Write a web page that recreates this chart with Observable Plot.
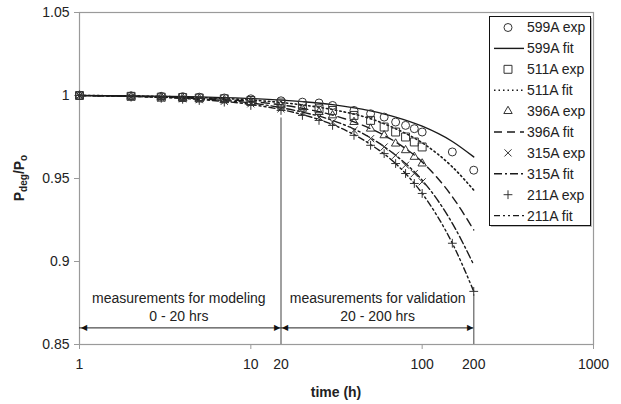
<!DOCTYPE html>
<html><head><meta charset="utf-8">
<script src="https://cdn.jsdelivr.net/npm/d3@7"></script>
<script src="https://cdn.jsdelivr.net/npm/@observablehq/plot@0.6"></script>
<style>
html,body{margin:0;padding:0;background:#fff;}
#chart{position:relative;width:621px;height:404px;}
</style></head><body><div id="chart"></div>
<script>
// ---- data ----
const series = ["599A", "511A", "396A", "315A", "211A"];
const expTimes = [1, 2, 3, 4, 5, 7, 10, 15, 20, 25, 30, 40, 50, 60, 70, 80, 90, 100, 150, 200];
const exp599A = [1.000, 0.9998, 0.9995, 0.9993, 0.999, 0.9985, 0.998, 0.9968, 0.996, 0.9955, 0.994, 0.991, 0.989, 0.987, 0.984, 0.982, 0.980, 0.978, 0.966, 0.955];
const exp511A = [1.000, 0.9995, 0.999, 0.9988, 0.9985, 0.998, 0.997, 0.9955, 0.994, 0.992, 0.991, 0.988, 0.985, 0.981, 0.978, 0.975, 0.972, 0.969];
const exp396A = [1.000, 0.9993, 0.999, 0.9985, 0.998, 0.9972, 0.996, 0.994, 0.992, 0.990, 0.988, 0.984, 0.980, 0.976, 0.971, 0.967, 0.963, 0.959];
const exp315A = [1.000, 0.9992, 0.9985, 0.998, 0.9975, 0.9965, 0.995, 0.992, 0.990, 0.987, 0.984, 0.979, 0.974, 0.969, 0.964, 0.958, 0.953, 0.948];
const exp211A = [1.000, 0.999, 0.9983, 0.9977, 0.997, 0.996, 0.994, 0.991, 0.988, 0.985, 0.982, 0.976, 0.970, 0.965, 0.959, 0.953, 0.947, 0.941, 0.911, 0.882];

const fitTimes = [1, 2, 5, 10, 20, 30, 50, 70, 100, 150, 200];
const fit599A = [1.000, 0.9998, 0.9992, 0.9982, 0.9963, 0.9945, 0.9907, 0.987, 0.9815, 0.9723, 0.963];
const fit511A = [1.000, 0.9997, 0.9988, 0.9973, 0.9943, 0.9915, 0.986, 0.980, 0.9715, 0.957, 0.943];
const fit396A = [1.000, 0.9996, 0.9984, 0.9964, 0.9923, 0.9882, 0.980, 0.972, 0.960, 0.939, 0.919];
const fit315A = [1.000, 0.9995, 0.998, 0.9955, 0.990, 0.985, 0.9745, 0.964, 0.949, 0.923, 0.898];
const fit211A = [1.000, 0.9994, 0.9976, 0.9946, 0.9885, 0.9825, 0.9705, 0.959, 0.941, 0.911, 0.882];

const yTicks = [0.85, 0.9, 0.95, 1, 1.05];
const xTickMarks = [1, 10, 100, 1000];
const xTickValues = [1, 10, 15, 100, 200, 1000];
const xTickLabels = ["1", "10", "20", "100", "200", "1000"];

// annotation (positions as drawn in the original figure)
const boundaries = [{t: 15, top: 0.9865}, {t: 200, top: 0.880}];
const spans = [{from: 1, to: 15}, {from: 15, to: 200}];
const arrowY = 0.86;
const notes = [
  {t: 3.8, v: 0.878, text: "measurements for modeling"},
  {t: 3.8, v: 0.867, text: "0 - 20 hrs"},
  {t: 55, v: 0.878, text: "measurements for validation"},
  {t: 55, v: 0.867, text: "20 - 200 hrs"}
];

// ---- styles ----
const squareSym = {draw(ctx, size) { const s = Math.sqrt(size) * 0.56; ctx.rect(-s, -s, 2 * s, 2 * s); }};
const plusSym = {draw(ctx, size) { const s = Math.sqrt(size) * 0.62; ctx.moveTo(-s, 0); ctx.lineTo(s, 0); ctx.moveTo(0, -s); ctx.lineTo(0, s); }};
const timesSym = {draw(ctx, size) { const s = Math.sqrt(size) * 0.5; ctx.moveTo(-s, -s); ctx.lineTo(s, s); ctx.moveTo(-s, s); ctx.lineTo(s, -s); }};
const symbolObjs = [d3.symbolCircle, squareSym, d3.symbolTriangle2, timesSym, plusSym];
const dashes = [null, "1.5,3", "8,5", "8,3,2,3", "6,3,2,3,2,3"];
const FONT = "'Liberation Sans', Arial, sans-serif";

const expSeries = [exp599A, exp511A, exp396A, exp315A, exp211A];
const fitSeries = [fit599A, fit511A, fit396A, fit315A, fit211A];
const expRows = series.flatMap((s, i) => expSeries[i].map((v, j) => ({series: s, t: expTimes[j], v})));

const lines = series.map((s, i) => Plot.line(fitSeries[i].map((v, j) => ({t: fitTimes[j], v})), {
  x: "t", y: "v", stroke: "#1a1a1a", strokeWidth: i === 1 ? 1.6 : 1.4,
  strokeDasharray: dashes[i] || undefined, curve: "monotone-x"
}));

const plot = Plot.plot({
  width: 621, height: 404,
  marginLeft: 79, marginRight: 28, marginTop: 12, marginBottom: 60,
  style: {fontFamily: FONT, fontSize: "14px", color: "#222", background: "#fff"},
  x: {type: "log", domain: [1, 1000], label: null},
  y: {domain: [0.85, 1.05], label: null},
  symbol: {domain: series, range: symbolObjs},
  marks: [
    Plot.frame({stroke: "#9a9a9a", strokeWidth: 1.2}),
    Plot.axisY({ticks: yTicks, tickSize: 5, tickPadding: 5, fontSize: 14, stroke: "#9a9a9a",
      tickFormat: d => String(+d.toFixed(2))}),
    Plot.axisX({ticks: xTickMarks, tickSize: 5, tickFormat: () => "", stroke: "#9a9a9a"}),
    Plot.axisX({ticks: xTickValues, tickSize: 0, tickPadding: 15, fontSize: 14,
      tickFormat: d => xTickLabels[xTickValues.indexOf(d)]}),
    Plot.ruleX(boundaries, {x: "t", y1: 0.85, y2: "top", stroke: "#808080", strokeWidth: 1.5}),
    ...lines,
    Plot.dot(expRows, {x: "t", y: "v", symbol: "series", r: 4, stroke: "#333", strokeWidth: 1, fill: "none"}),
    Plot.ruleY(spans, {y: arrowY, x1: "from", x2: "to", stroke: "#222", strokeWidth: 1}),
    Plot.text(spans, {x: "from", y: arrowY, text: () => "\u25C0", textAnchor: "start", fontSize: 8, fill: "#111", dx: 1}),
    Plot.text(spans, {x: "to", y: arrowY, text: () => "\u25B6", textAnchor: "end", fontSize: 8, fill: "#111", dx: -1}),
    Plot.text(notes, {x: "t", y: "v", text: "text", fontSize: 14, fill: "#222"})
  ]
});

document.getElementById("chart").appendChild(plot);

// ---- axis titles and legend ----
const svg = d3.select(plot);
const yl = svg.append("text").attr("transform", "translate(24,178) rotate(-90)")
  .attr("text-anchor", "middle").attr("font-weight", "bold").attr("font-size", 14).attr("fill", "#222");
yl.append("tspan").text("P");
yl.append("tspan").attr("font-size", 10).attr("dy", 3).text("deg");
yl.append("tspan").attr("dy", -3).text("/P");
yl.append("tspan").attr("font-size", 10).attr("dy", 3).text("o");

svg.append("text").attr("x", 336).attr("y", 397).attr("text-anchor", "middle")
  .attr("font-weight", "bold").attr("font-size", 14).attr("fill", "#222").text("time (h)");

const lg = svg.append("g").attr("text-anchor", "start");
lg.append("rect").attr("x", 491).attr("y", 18).attr("width", 101).attr("height", 209).attr("fill", "#bbb");
lg.append("rect").attr("x", 489.5).attr("y", 16.5).attr("width", 101).attr("height", 209)
  .attr("fill", "#fff").attr("stroke", "#111").attr("stroke-width", 1);
const rowY0 = 27.5, rowH = 20.9;
series.forEach((s, i) => {
  const ye = rowY0 + rowH * (2 * i), yf = rowY0 + rowH * (2 * i + 1);
  lg.append("path").attr("transform", `translate(508,${ye})`)
    .attr("d", d3.symbol(symbolObjs[i], 16 * Math.PI)()).attr("fill", "none").attr("stroke", "#333");
  lg.append("text").attr("x", 527).attr("y", ye).attr("dy", "0.35em").attr("text-anchor", "start")
    .attr("font-size", 14).attr("fill", "#222").text(`${s} exp`);
  const ln = lg.append("line").attr("x1", 494).attr("x2", 524).attr("y1", yf).attr("y2", yf)
    .attr("stroke", "#1a1a1a").attr("stroke-width", 1.4);
  if (dashes[i]) ln.attr("stroke-dasharray", dashes[i]);
  lg.append("text").attr("x", 527).attr("y", yf).attr("dy", "0.35em").attr("text-anchor", "start")
    .attr("font-size", 14).attr("fill", "#222").text(`${s} fit`);
});
</script></body></html>
